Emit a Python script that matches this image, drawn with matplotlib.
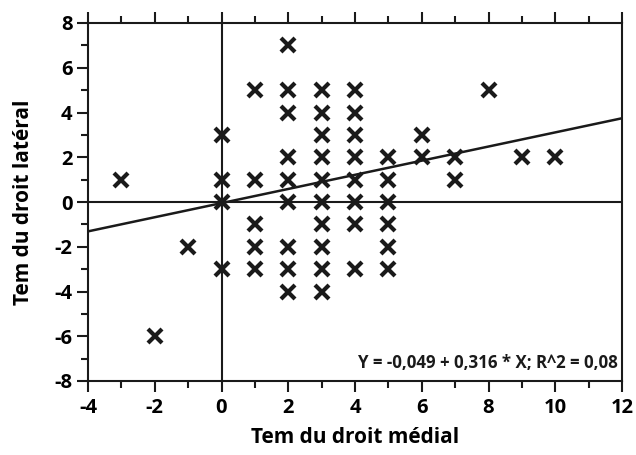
import matplotlib
matplotlib.use("Agg")
import matplotlib.pyplot as plt
from matplotlib.ticker import MultipleLocator
import numpy as np

plt.rcParams['font.family'] = ['Open Sans', 'DejaVu Sans']
plt.rcParams['font.weight'] = 'bold'
plt.rcParams['axes.unicode_minus'] = False

# data: (x, list of y values)
x_vals = [-3, -2, -1, 0, 1, 2, 3, 4, 5, 6, 7, 8, 9, 10]
y_groups = [
    [1],
    [-6],
    [-2],
    [3, 1, 0, -3],
    [5, 1, -1, -2, -3],
    [7, 5, 4, 2, 1, 0, -2, -3, -4],
    [5, 4, 3, 2, 1, 0, -1, -2, -3, -4],
    [5, 4, 3, 2, 1, 0, -1, -3],
    [2, 1, 0, -1, -2, -3],
    [3, 2],
    [2, 1],
    [5],
    [2],
    [2],
]
intercept = -0.049
slope = 0.316
r2 = 0.08

xs = []
ys = []
for xv, grp in zip(x_vals, y_groups):
    for yv in grp:
        xs.append(xv)
        ys.append(yv)

fig = plt.figure(figsize=(6.36, 4.55), dpi=100)
ax = fig.add_axes([88/636, 1-381/455, (622-88)/636, (381-23)/455])
ax.set_xlim(-4, 12)
ax.set_ylim(-8, 8)

ax.axhline(0, color='#1a1a1a', lw=1.5, zorder=1)
ax.axvline(0, color='#1a1a1a', lw=1.5, zorder=1)
lx = np.array([-4, 12])
ax.plot(lx, intercept + slope*lx, color='#1a1a1a', lw=1.8, zorder=2)
ax.plot(xs, ys, linestyle='none', marker='x', markersize=10, markeredgewidth=3,
        color='#1a1a1a', zorder=3)

for s in ax.spines.values():
    s.set_linewidth(1.5)
    s.set_color('#1a1a1a')

ax.xaxis.set_major_locator(MultipleLocator(2))
ax.xaxis.set_minor_locator(MultipleLocator(1))
ax.yaxis.set_major_locator(MultipleLocator(2))
ax.yaxis.set_minor_locator(MultipleLocator(1))
ax.tick_params(which='both', direction='out', top=True, right=False, color='#1a1a1a', width=1.5)
ax.tick_params(which='major', length=8, labelsize=14.5, pad=3)
ax.tick_params(which='minor', length=5)
ax.tick_params(axis='x', pad=4)
for lab in ax.get_xticklabels() + ax.get_yticklabels():
    lab.set_fontweight('bold')

ax.set_xlabel('Tem du droit médial', fontsize=15, fontweight='bold', labelpad=7)
ax.set_ylabel('Tem du droit latéral', fontsize=15, fontweight='bold', labelpad=15)

ax.text(0.993, 0.025, 'Y = -0,049 + 0,316 * X; R^2 = 0,08', transform=ax.transAxes,
        ha='right', va='bottom', fontsize=12.2, fontweight='bold', color='#1a1a1a')

fig.savefig('out.png', dpi=100)
